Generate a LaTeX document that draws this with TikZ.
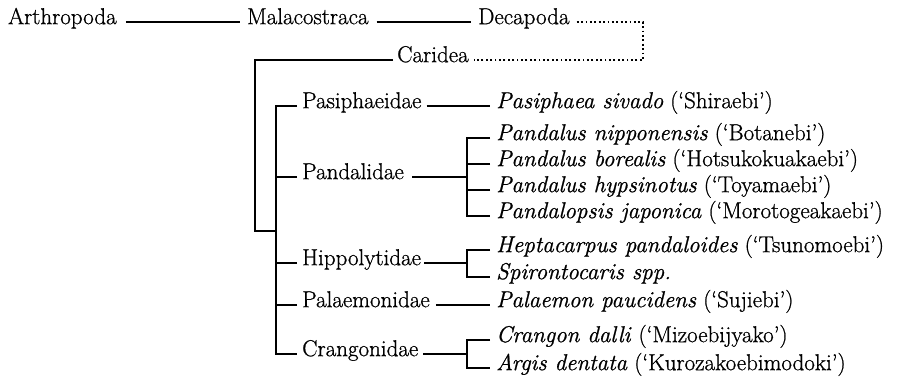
\documentclass[tikz,border=0pt]{standalone}
\usepackage{fontspec}
\setmainfont{Latin Modern Roman}[FakeBold=0.9]
\begin{document}
\begin{tikzpicture}[x=1pt,y=-1pt,
  lbl/.style={anchor=mid west, inner sep=0pt, font=\fontsize{23}{27}\selectfont},
  ln/.style={line width=1.3pt},
  dots/.style={line width=2pt, line cap=butt, dash pattern=on 1.8pt off 2.6pt}]
\useasboundingbox (0,0) rectangle (900,385);
% top row
\node[lbl] (arth) at (8,22) {Arthropoda};
\node[lbl] (mala) at (247,22) {Malacostraca};
\node[lbl] (deca) at (478,22) {Decapoda};
\node[lbl] (cari) at (397,60) {Caridea};
% families
\node[lbl] (pasi) at (302,106) {Pasiphaeidae};
\node[lbl] (pand) at (302,177) {Pandalidae};
\node[lbl] (hipp) at (302,263) {Hippolytidae};
\node[lbl] (pala) at (302,305) {Palaemonidae};
\node[lbl] (cran) at (302,354) {Crangonidae};
% species
\node[lbl] (s1) at (496,106) {\textit{Pasiphaea sivado} (`Shiraebi')};
\node[lbl] (s2) at (496,138) {\textit{Pandalus nipponensis} (`Botanebi')};
\node[lbl] (s3) at (496,164) {\textit{Pandalus borealis} (`Hotsukokuakaebi')};
\node[lbl] (s4) at (496,190) {\textit{Pandalus hypsinotus} (`Toyamaebi')};
\node[lbl] (s5) at (496,216) {\textit{Pandalopsis japonica} (`Morotogeakaebi')};
\node[lbl] (s6) at (496,250) {\textit{Heptacarpus pandaloides} (`Tsunomoebi')};
\node[lbl] (s7) at (496,277) {\textit{Spirontocaris spp.}};
\node[lbl] (s8) at (496,305) {\textit{Palaemon paucidens} (`Sujiebi')};
\node[lbl] (s9) at (496,340) {\textit{Crangon dalli} (`Mizoebijyako')};
\node[lbl] (s10) at (496,368) {\textit{Argis dentata} (`Kurozakoebimodoki')};
% bracket coordinates
\coordinate (v1top) at (255,60);
\coordinate (v1bot) at (255,231);
\coordinate (v2bot) at (276,231);
\coordinate (v2top) at (276,106);
\coordinate (v2end) at (276,354);
% top row lines
\draw[ln] ([xshift=9pt]arth.mid east) -- ([xshift=-7pt]mala.mid west);
\draw[ln] ([xshift=8pt]mala.mid east) -- ([xshift=-7pt]deca.mid west);
% Caridea bracket
\draw[ln] ([xshift=-4pt]cari.mid west) -- (v1top) -- (v1bot) -- (v2bot);
% family bracket
\draw[ln] ([xshift=-5pt]pasi.mid west) -- (v2top) -- (v2end) -- ([xshift=-5pt]cran.mid west);
\draw[ln] ([xshift=-5pt]pand.mid west) -- (pand.mid west -| v2top);
\draw[ln] ([xshift=-5pt]hipp.mid west) -- (hipp.mid west -| v2top);
\draw[ln] ([xshift=-5pt]pala.mid west) -- (pala.mid west -| v2top);
% species connectors
\coordinate (bx) at (467,0);
\draw[ln] ([xshift=5pt]pasi.mid east) -- ([xshift=-6pt]s1.mid west);
\draw[ln] ([xshift=6pt]pala.mid east) -- ([xshift=-6pt]s8.mid west);
\draw[ln] ([xshift=8pt]pand.mid east) -- (pand.mid east -| bx);
\draw[ln] ([xshift=-6pt]s2.mid west) -- (s2.mid west -| bx) -- (s5.mid west -| bx) -- ([xshift=-6pt]s5.mid west);
\draw[ln] ([xshift=-6pt]s3.mid west) -- (s3.mid west -| bx);
\draw[ln] ([xshift=-6pt]s4.mid west) -- (s4.mid west -| bx);
\draw[ln] ([xshift=3pt]hipp.mid east) -- (hipp.mid east -| bx);
\draw[ln] ([xshift=-6pt]s6.mid west) -- (s6.mid west -| bx) -- (s7.mid west -| bx) -- ([xshift=-6pt]s7.mid west);
\draw[ln] ([xshift=5pt]cran.mid east) -- (cran.mid east -| bx);
\draw[ln] ([xshift=-6pt]s9.mid west) -- (s9.mid west -| bx) -- (s10.mid west -| bx) -- ([xshift=-6pt]s10.mid west);
% dotted link
\coordinate (dc) at (643,0);
\draw[dots] ([xshift=7pt]deca.mid east) -- (deca.mid east -| dc) -- (cari.mid east -| dc) -- ([xshift=5pt]cari.mid east);
\end{tikzpicture}
\end{document}
